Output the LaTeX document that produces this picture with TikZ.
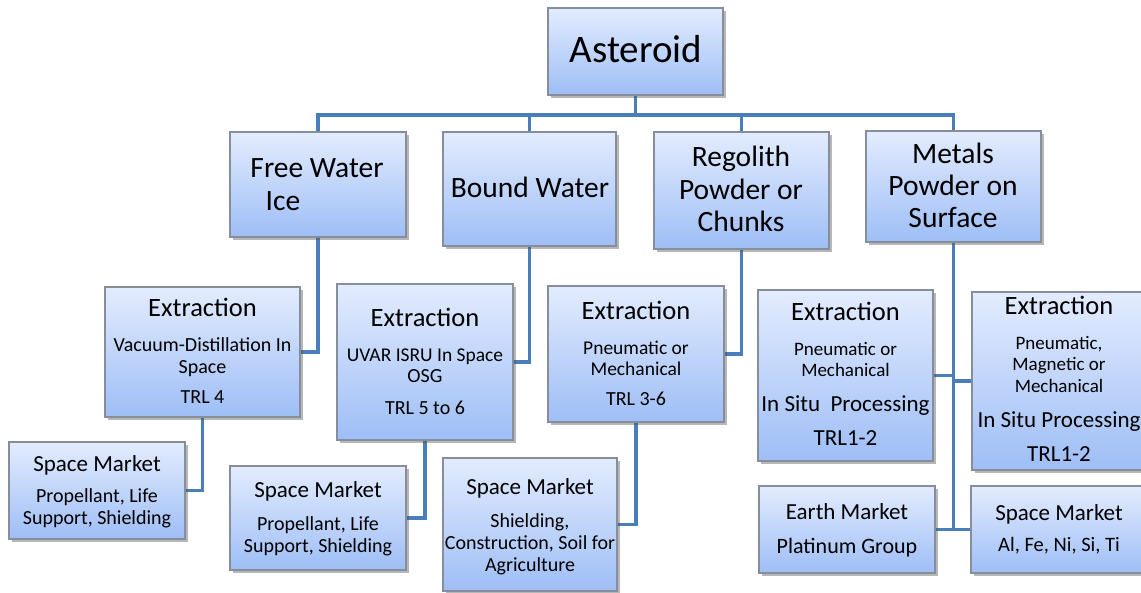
\documentclass[tikz,border=0pt]{standalone}
\usepackage{fontspec}
\setmainfont{Carlito}
\usetikzlibrary{shadows}
\pgfdeclarelayer{background}
\pgfsetlayers{background,main}

\definecolor{boxtop}{RGB}{227,236,254}
\definecolor{boxbot}{RGB}{158,190,246}
\definecolor{boxline}{RGB}{135,142,155}
\definecolor{linkblue}{RGB}{74,126,187}

% font size given in pixels (1px = 0.75pt)
\newcommand\pxf[1]{\fontsize{\dimexpr #1pt*3/4\relax}{\dimexpr #1pt\relax}\selectfont}
% box from its corners: name, x1, y1, x2, y2
\newcommand\bx[5]{\node[box, minimum width={(#4-#2)*0.75pt}, minimum height={(#5-#3)*0.75pt}] (#1) at ({(#2+#4)/2},{(#3+#5)/2}) {};}
% one text line: name, x, y (visual centre), size, text
\newcommand\tx[5]{\node[txt, font=\pxf{#4}, anchor=base] (#1) at ({#2},{#3+0.33*#4}) {#5};}

\begin{document}
\begin{tikzpicture}[x=0.75pt, y=-0.75pt,
  box/.style={draw=boxline, line width=0.8pt, top color=boxtop, bottom color=boxbot,
    inner sep=0pt, outer sep=0pt,
    drop shadow={shadow xshift=2pt, shadow yshift=-2pt, opacity=0.4, fill=black!70}},
  txt/.style={inner sep=0pt, outer sep=0pt, text=black},
  link/.style={draw=linkblue, line width=2.3pt}]

\useasboundingbox (0,0) rectangle (1141,592);
\clip (0,0) rectangle (1141,592);

% boxes
\bx{ast}{548}{8}{723}{95}
\bx{fwi}{230}{132}{406}{237}
\bx{bw}{443}{132}{616}{246}
\bx{reg}{654}{132}{829}{249}
\bx{met}{866}{131}{1041}{242}

\bx{ex1}{105}{287}{300}{417}
\bx{sm1}{9}{442}{185}{539}
\bx{ex2}{337}{284}{513}{440}
\bx{sm2}{230}{466}{406}{570}
\bx{ex3}{548}{286}{724}{422}
\bx{sm3}{443}{458}{617}{591}
\bx{ex4}{758}{290}{933}{461}
\bx{ex5}{972}{292}{1150}{470}
\bx{em}{759}{486}{935}{573}
\bx{sm4}{971}{486}{1150}{573}

% connectors, drawn beneath the boxes
\coordinate (bus) at (635.5,115);
\begin{pgfonlayer}{background}
\fill[white] (0,0) rectangle (1141,592);
\draw[link] (ast.south) -- (bus);
\draw[link] (fwi.north) |- (bus);
\draw[link] (bw.north) |- (bus);
\draw[link] (reg.north) |- (bus);
\draw[link] (met.north) |- (bus);

\draw[link] (fwi.south) |- (ex1.east);
\draw[link] (ex1.south) |- (sm1.east);
\draw[link] (bw.south) |- (ex2.east);
\draw[link] (ex2.south) |- (sm2.east);
\draw[link] (reg.south) |- (ex3.east);
\draw[link] (ex3.south) |- (sm3.east);
\draw[link] (met.south) |- (ex4.east);
\draw[link] (met.south) |- (ex5.west);
\draw[link] (met.south) |- (em.east);
\draw[link] (met.south) |- (sm4.west);
\end{pgfonlayer}

% texts
\tx{t0}{636}{50}{39}{Asteroid}
\tx{t1a}{317}{168}{29.5}{Free Water}
\tx{t1b}{283}{201}{29.5}{Ice}
\tx{t2}{530}{188}{29.5}{Bound Water}
\tx{t3a}{741}{157}{29.5}{Regolith}
\tx{t3b}{741}{190}{29.5}{Powder or}
\tx{t3c}{741}{222}{29.5}{Chunks}
\tx{t4a}{953}{154}{29.5}{Metals}
\tx{t4b}{953}{186}{29.5}{Powder on}
\tx{t4c}{953}{218}{29.5}{Surface}

\tx{e1a}{202.5}{308}{26.5}{Extraction}
\tx{e1b}{202.5}{345}{20}{Vacuum-Distillation In}
\tx{e1c}{202.5}{367}{20}{Space}
\tx{e1d}{202.5}{397}{20}{TRL 4}

\tx{s1a}{97}{464}{23}{Space Market}
\tx{s1b}{97}{496}{20}{Propellant, Life}
\tx{s1c}{97}{518}{20}{Support, Shielding}

\tx{e2a}{425}{318}{26.5}{Extraction}
\tx{e2b}{425}{355}{19.5}{UVAR ISRU In Space}
\tx{e2c}{425}{376}{20}{OSG}
\tx{e2d}{425}{408}{20}{TRL 5 to 6}

\tx{s2a}{318}{490}{23}{Space Market}
\tx{s2b}{318}{524}{20}{Propellant, Life}
\tx{s2c}{318}{546}{20}{Support, Shielding}

\tx{e3a}{636}{311}{26.5}{Extraction}
\tx{e3b}{636}{348}{19.5}{Pneumatic or}
\tx{e3c}{636}{369}{19.5}{Mechanical}
\tx{e3d}{636}{399}{20}{TRL 3-6}

\tx{s3a}{530}{487}{23}{Space Market}
\tx{s3b}{530}{521}{20}{Shielding,}
\tx{s3c}{530}{543}{20}{Construction, Soil for}
\tx{s3d}{530}{565}{20}{Agriculture}

\tx{e4a}{845.5}{312}{26.5}{Extraction}
\tx{e4b}{845.5}{349}{19}{Pneumatic or}
\tx{e4c}{845.5}{370}{19}{Mechanical}
\tx{e4d}{845.5}{404}{23}{In Situ\ \ Processing}
\tx{e4e}{845.5}{438}{23}{TRL1-2}

\tx{e5a}{1059}{306}{26.5}{Extraction}
\tx{e5b}{1059}{343}{19}{Pneumatic,}
\tx{e5c}{1059}{364}{19}{Magnetic or}
\tx{e5d}{1059}{386}{19}{Mechanical}
\tx{e5e}{1059}{420}{23}{In Situ Processing}
\tx{e5f}{1059}{454}{23}{TRL1-2}

\tx{m1a}{847}{512}{23}{Earth Market}
\tx{m1b}{847}{546}{22}{Platinum Group}

\tx{m2a}{1059}{513}{23}{Space Market}
\tx{m2b}{1059}{545}{20.5}{Al, Fe, Ni, Si, Ti}
\end{tikzpicture}
\end{document}
